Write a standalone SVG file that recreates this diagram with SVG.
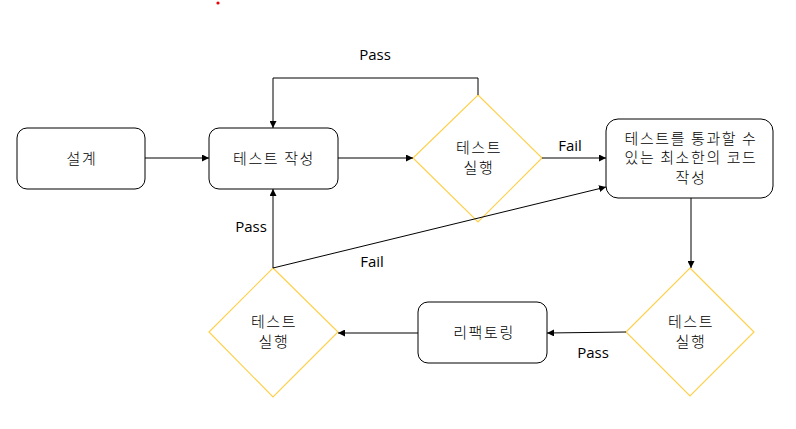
<svg xmlns="http://www.w3.org/2000/svg" width="796" height="429" viewBox="0 0 796 429">
<defs>
<marker id="ah" viewBox="0 0 8 8" refX="8" refY="4" markerWidth="7" markerHeight="7" markerUnits="userSpaceOnUse" orient="auto">
<path d="M0,0 L8,4 L0,8 Z" fill="#000"/>
</marker>
<style>
.box{fill:#fff;stroke:#000;stroke-width:1}
.dia{fill:#fff;stroke:#ffd04a;stroke-width:1.2}
.t{font-family:"Malgun Gothic","Noto Sans CJK KR",sans-serif;font-size:15px;fill:#000;text-anchor:middle}
.k{font-weight:300;letter-spacing:1.6px}
.l{font-family:"Open Sans","Noto Sans",sans-serif;font-weight:400;font-size:15px}
.c{fill:none;stroke:#000;stroke-width:1;marker-end:url(#ah)}
</style>
</defs>
<rect width="796" height="429" fill="#fff"/>
<circle cx="218" cy="3" r="1.6" fill="#e00"/>
<g id="n1"><rect class="box" x="17" y="128" width="128" height="61" rx="10"/><text class="t k" x="82" y="164">설계</text></g>
<g id="n2"><rect class="box" x="209" y="128" width="129" height="61" rx="10"/><text class="t k" x="274" y="164">테스트 작성</text></g>
<g id="n3"><polygon class="dia" points="478,95 542,158 478,222 413,158"/><text class="t k" x="479" y="153">테스트</text><text class="t k" x="479" y="173">실행</text></g>
<g id="n4"><rect class="box" x="606" y="119" width="167" height="79" rx="12"/><text class="t k" x="691" y="144">테스트를 통과할 수</text><text class="t k" x="691" y="163">있는 최소한의 코드</text><text class="t k" x="691" y="183">작성</text></g>
<g id="n5"><polygon class="dia" points="690,268 754,332 690,396 626,332"/><text class="t k" x="691" y="327">테스트</text><text class="t k" x="691" y="347">실행</text></g>
<g id="n6"><rect class="box" x="418" y="302" width="129" height="61" rx="10"/><text class="t k" x="484" y="338">리팩토링</text></g>
<g id="n7"><polygon class="dia" points="273,268 338,332 273,397 209,332"/><text class="t k" x="274" y="327">테스트</text><text class="t k" x="274" y="347">실행</text></g>
<g id="connectors">
<line class="c" x1="145" y1="158" x2="209" y2="158"/>
<line class="c" x1="338" y1="158" x2="413" y2="158"/>
<polyline class="c" points="478,95 478,78 273,78 273,128"/>
<line class="c" x1="542" y1="158" x2="606" y2="158"/>
<line class="c" x1="691" y1="198" x2="691" y2="268"/>
<line class="c" x1="626" y1="332" x2="547" y2="333"/>
<line class="c" x1="418" y1="333" x2="338" y2="333"/>
<line class="c" x1="273" y1="268" x2="273" y2="189"/>
<line class="c" x1="273" y1="268" x2="606" y2="187"/>
<text class="t l" x="375" y="60">Pass</text>
<text class="t l" x="570" y="151">Fail</text>
<text class="t l" x="593" y="358">Pass</text>
<text class="t l" x="251" y="232">Pass</text>
<text class="t l" x="372" y="267">Fail</text>
</g>
</svg>
